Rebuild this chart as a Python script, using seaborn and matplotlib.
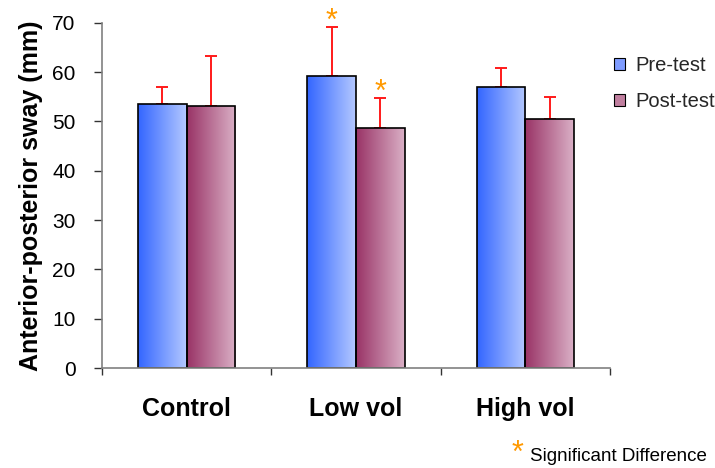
import numpy as np
import pandas as pd
import matplotlib
matplotlib.use('Agg')
import matplotlib.pyplot as plt
import seaborn as sns
from matplotlib.colors import LinearSegmentedColormap
from matplotlib.patches import Patch
from matplotlib.ticker import FixedLocator

groups = ['Control', 'Low vol', 'High vol']
tests = ['Pre-test', 'Post-test']
pre_mean = [53.5, 59.2, 57.0]
post_mean = [53.1, 48.7, 50.4]
pre_err = [3.5, 9.9, 3.8]
post_err = [10.2, 6.1, 4.6]
significant_pre = [False, True, False]
significant_post = [False, True, False]

sns.set_theme(style='white')
plt.rcParams['font.family'] = ['Liberation Sans', 'DejaVu Sans']

df = pd.DataFrame({
    'group': groups * 2,
    'test': [tests[0]] * 3 + [tests[1]] * 3,
    'value': pre_mean + post_mean,
})

fig = plt.figure(figsize=(7.15, 4.68), dpi=100)
ax = fig.add_axes([102 / 715, 1 - 368 / 468, (610 - 102) / 715, (368 - 22.7) / 468])

pal = {'Pre-test': '#7f9cff', 'Post-test': '#c07f9f'}
sns.barplot(data=df, x='group', y='value', hue='test', order=groups, hue_order=tests,
            palette=pal, width=0.575, edgecolor='black', linewidth=1.2,
            errorbar=None, legend=False, ax=ax, saturation=1)

cmaps = {
    'Pre-test': LinearSegmentedColormap.from_list('pre', ['#3366ff', '#b4c8ff']),
    'Post-test': LinearSegmentedColormap.from_list('post', ['#993366', '#dab0c6']),
}
grad = np.linspace(0, 1, 256).reshape(1, -1)
for cont, t, errs, sig in zip(ax.containers, tests, [pre_err, post_err],
                              [significant_pre, significant_post]):
    for bar, e, s in zip(cont, errs, sig):
        x0 = bar.get_x(); w = bar.get_width(); h = bar.get_height()
        im = ax.imshow(grad, cmap=cmaps[t], extent=[x0, x0 + w, 0, h], aspect='auto',
                       zorder=0.9, interpolation='bilinear')
        im.set_clip_path(bar)
        bar.set_facecolor('none')
        cx = x0 + w / 2
        ax.errorbar(cx, h, yerr=[[0], [e]], color='#ff1a1a', capsize=4.5, elinewidth=1.4,
                    capthick=1.4, fmt='none', zorder=0.8)
        if s:
            ax.annotate('*', (cx, h + e), xytext=(0, -2), textcoords='offset points',
                        ha='center', va='baseline', color='#ff9900', fontsize=22)

ax.set_xlim(-0.5, 2.5)
ax.set_ylim(0, 70)
ax.set_yticks(range(0, 71, 10))
ax.tick_params(axis='y', left=True, length=6, width=1, color='#333333', pad=13,
               labelsize=15, direction='out', labelcolor='black')
ax.set_xticks(range(3))
ax.set_xticklabels(groups, fontweight='bold', fontsize=18, color='black')
ax.tick_params(axis='x', which='major', bottom=False, length=0, pad=21)
ax.xaxis.set_minor_locator(FixedLocator([-0.5, 0.5, 1.5, 2.5]))
ax.tick_params(axis='x', which='minor', bottom=True, length=5, width=1,
               color='#333333', direction='out')
for s in ['top', 'right']:
    ax.spines[s].set_visible(False)
for s in ['left', 'bottom']:
    ax.spines[s].set_color('#808080')
    ax.spines[s].set_linewidth(1.2)
ax.set_xlabel('')
ax.set_ylabel('Anterior-posterior sway (mm)', fontsize=18, fontweight='bold',
              labelpad=7, color='black')

handles = [Patch(facecolor=pal[t], edgecolor='black', linewidth=0.8) for t in tests]
fig.legend(handles, tests, loc='upper left', bbox_to_anchor=(614 / 715, 1 - 56 / 468),
           frameon=False, fontsize=14.5, handlelength=0.55, handleheight=0.55,
           handletextpad=0.5, labelspacing=0.85, borderaxespad=0, borderpad=0)

fig.text(517 / 715, 1 - 462 / 468, '*', color='#ff9900', fontsize=22, ha='center', va='baseline')
fig.text(530 / 715, 1 - 461 / 468, 'Significant Difference', fontsize=13.5, ha='left',
         va='baseline', color='black')

fig.savefig('out.png', dpi=100)
